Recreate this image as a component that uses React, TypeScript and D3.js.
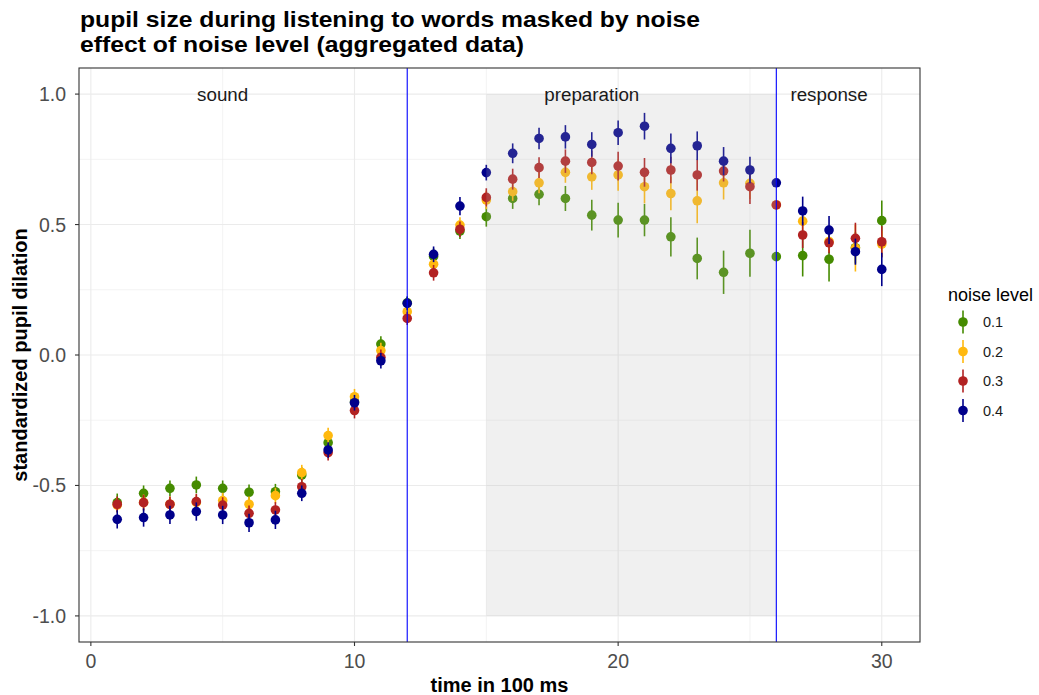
import React from "react";
import * as d3 from "d3";

// time bins (x 100 ms)
const TIME = [1, 2, 3, 4, 5, 6, 7, 8, 9, 10, 11, 12, 13, 14, 15, 16, 17, 18, 19, 20, 21, 22, 23, 24, 25, 26, 27, 28, 29, 30];

const NOISE_LEVELS = ["0.1", "0.2", "0.3", "0.4"];
const NOISE_COLORS = ["#458B00", "#FFB90F", "#B22222", "#00008B"];

// mean standardized pupil dilation per noise level
const MEAN_01 = [-0.566, -0.530, -0.511, -0.498, -0.511, -0.526, -0.524, -0.460, -0.336, -0.180, 0.042, 0.200, 0.378, 0.475, 0.530, 0.600, 0.616, 0.600, 0.536, 0.517, 0.517, 0.453, 0.370, 0.317, 0.390, 0.377, 0.381, 0.367, 0.411, 0.515];
const MEAN_02 = [-0.575, -0.565, -0.572, -0.565, -0.558, -0.572, -0.539, -0.451, -0.309, -0.160, 0.017, 0.166, 0.348, 0.498, 0.594, 0.626, 0.660, 0.700, 0.683, 0.690, 0.645, 0.619, 0.591, 0.660, 0.658, 0.575, 0.513, 0.435, 0.410, 0.425];
const MEAN_03 = [-0.572, -0.566, -0.572, -0.562, -0.575, -0.607, -0.594, -0.505, -0.374, -0.213, -0.009, 0.140, 0.315, 0.482, 0.604, 0.674, 0.718, 0.743, 0.738, 0.724, 0.700, 0.709, 0.690, 0.705, 0.645, 0.575, 0.460, 0.430, 0.447, 0.434];
const MEAN_04 = [-0.630, -0.623, -0.613, -0.600, -0.613, -0.643, -0.632, -0.530, -0.364, -0.183, -0.022, 0.198, 0.386, 0.571, 0.699, 0.773, 0.830, 0.836, 0.807, 0.852, 0.877, 0.792, 0.802, 0.743, 0.709, 0.660, 0.552, 0.479, 0.396, 0.328];

// standard errors per noise level
const SE_01 = [0.035, 0.030, 0.030, 0.032, 0.030, 0.030, 0.030, 0.030, 0.030, 0.030, 0.030, 0.025, 0.030, 0.030, 0.038, 0.040, 0.042, 0.048, 0.059, 0.067, 0.062, 0.075, 0.080, 0.083, 0.090, 0.012, 0.080, 0.085, 0.060, 0.077];
const SE_02 = [0.030, 0.030, 0.030, 0.030, 0.030, 0.030, 0.030, 0.030, 0.030, 0.030, 0.030, 0.025, 0.030, 0.030, 0.035, 0.035, 0.040, 0.040, 0.050, 0.060, 0.064, 0.064, 0.086, 0.064, 0.060, 0.012, 0.040, 0.040, 0.090, 0.050];
const SE_03 = [0.030, 0.030, 0.030, 0.030, 0.030, 0.030, 0.030, 0.030, 0.030, 0.030, 0.030, 0.025, 0.030, 0.030, 0.035, 0.040, 0.040, 0.045, 0.045, 0.055, 0.055, 0.051, 0.060, 0.040, 0.066, 0.012, 0.050, 0.040, 0.060, 0.060];
const SE_04 = [0.035, 0.035, 0.035, 0.035, 0.035, 0.035, 0.035, 0.030, 0.030, 0.030, 0.030, 0.025, 0.030, 0.035, 0.030, 0.038, 0.041, 0.045, 0.047, 0.047, 0.051, 0.057, 0.055, 0.054, 0.051, 0.012, 0.055, 0.054, 0.050, 0.064];

const MEANS = [MEAN_01, MEAN_02, MEAN_03, MEAN_04];
const SES = [SE_01, SE_02, SE_03, SE_04];

// trial phases
const PHASE_LABELS = ["sound", "preparation", "response"];
const PHASE_LABEL_TIME = [5, 19, 28];
const PHASE_BOUNDARIES = [12, 26];
const SHADED_SPAN = [15, 26];
const SHADED_RANGE = [-1, 1];

const X_TICKS = [0, 10, 20, 30];
const X_MINOR = [5, 15, 25];
const Y_TICKS = [-1, -0.5, 0, 0.5, 1];
const Y_MINOR = [-0.75, -0.25, 0.25, 0.75];

const TITLE_LINES = ["pupil size during listening to words masked by noise", "effect of noise level (aggregated data)"];
const TITLE_WIDTHS = [620, 444];
const X_TITLE = "time in 100 ms";
const Y_TITLE = "standardized pupil dilation";
const LEGEND_TITLE = "noise level";

const W = 1039;
const H = 695;
const PANEL = { left: 79, right: 920, top: 68, bottom: 642 };
const FONT = "'Liberation Sans', Arial, Helvetica, sans-serif";

export default function App() {
  const x = d3.scaleLinear().domain([-0.45, 31.45]).range([PANEL.left, PANEL.right]);
  const y = d3.scaleLinear().domain([-1.1, 1.1]).range([PANEL.bottom, PANEL.top]);
  // plain hyphen for negatives, one decimal
  const fmt = (v: number) => d3.format(".1f")(v).replace("\u2212", "-");

  const points = NOISE_LEVELS.map((lvl, s) =>
    TIME.map((t, i) => ({ lvl, s, t, m: MEANS[s][i], se: SES[s][i] }))
  );

  return (
    <svg
      width={W}
      height={H}
      style={{ position: "absolute", left: 0, top: 0, background: "#fff" }}
      fontFamily={FONT}
    >
      <rect x={0} y={0} width={W} height={H} fill="#fff" />

      {/* title */}
      {TITLE_LINES.map((line, i) => (
        <text
          key={i}
          x={PANEL.left + 1}
          y={27 + i * 25}
          fontSize={21.5}
          fontWeight="bold"
          fill="#000"
          textLength={TITLE_WIDTHS[i]}
          lengthAdjust="spacingAndGlyphs"
        >
          {line}
        </text>
      ))}

      {/* grid */}
      <g>
        {X_MINOR.map((v) => (
          <line key={"xm" + v} x1={x(v)} x2={x(v)} y1={PANEL.top} y2={PANEL.bottom} stroke="#EBEBEB" strokeWidth={0.6} />
        ))}
        {Y_MINOR.map((v) => (
          <line key={"ym" + v} x1={PANEL.left} x2={PANEL.right} y1={y(v)} y2={y(v)} stroke="#EBEBEB" strokeWidth={0.6} />
        ))}
        {X_TICKS.map((v) => (
          <line key={"xg" + v} x1={x(v)} x2={x(v)} y1={PANEL.top} y2={PANEL.bottom} stroke="#EBEBEB" strokeWidth={1.1} />
        ))}
        {Y_TICKS.map((v) => (
          <line key={"yg" + v} x1={PANEL.left} x2={PANEL.right} y1={y(v)} y2={y(v)} stroke="#EBEBEB" strokeWidth={1.1} />
        ))}
      </g>

      {/* point ranges */}
      {points.map((series, s) => (
        <g key={s}>
          {series.map((d) => (
            <g key={d.t}>
              <line
                x1={x(d.t)}
                x2={x(d.t)}
                y1={y(d.m - d.se)}
                y2={y(d.m + d.se)}
                stroke={NOISE_COLORS[s]}
                strokeWidth={1.6}
              />
              <circle cx={x(d.t)} cy={y(d.m)} r={4.8} fill={NOISE_COLORS[s]} />
            </g>
          ))}
        </g>
      ))}

      {/* preparation phase shading */}
      <rect
        x={x(SHADED_SPAN[0])}
        y={y(SHADED_RANGE[1])}
        width={x(SHADED_SPAN[1]) - x(SHADED_SPAN[0])}
        height={y(SHADED_RANGE[0]) - y(SHADED_RANGE[1])}
        fill="#B3B3B3"
        fillOpacity={0.2}
      />

      {/* phase boundaries */}
      {PHASE_BOUNDARIES.map((v) => (
        <line key={v} x1={x(v)} x2={x(v)} y1={PANEL.top} y2={PANEL.bottom} stroke="#0000FF" strokeWidth={1.1} />
      ))}

      {/* phase labels */}
      {PHASE_LABELS.map((lbl, i) => (
        <text
          key={lbl}
          x={x(PHASE_LABEL_TIME[i])}
          y={y(1)}
          dy="0.35em"
          textAnchor="middle"
          fontSize={18.8}
          fill="#1a1a1a"
        >
          {lbl}
        </text>
      ))}

      {/* panel border */}
      <rect
        x={PANEL.left}
        y={PANEL.top}
        width={PANEL.right - PANEL.left}
        height={PANEL.bottom - PANEL.top}
        fill="none"
        stroke="#333333"
        strokeWidth={1.1}
      />

      {/* x axis */}
      {X_TICKS.map((v) => (
        <g key={"xt" + v}>
          <line x1={x(v)} x2={x(v)} y1={PANEL.bottom} y2={PANEL.bottom + 4} stroke="#333333" strokeWidth={1.1} />
          <text x={x(v)} y={PANEL.bottom + 26} textAnchor="middle" fontSize={19.5} fill="#4D4D4D">
            {v}
          </text>
        </g>
      ))}
      <text x={(PANEL.left + PANEL.right) / 2} y={692} textAnchor="middle" fontSize={20} fontWeight="bold" fill="#000">
        {X_TITLE}
      </text>

      {/* y axis */}
      {Y_TICKS.map((v) => (
        <g key={"yt" + v}>
          <line x1={PANEL.left - 4} x2={PANEL.left} y1={y(v)} y2={y(v)} stroke="#333333" strokeWidth={1.1} />
          <text x={PANEL.left - 13} y={y(v)} dy="0.36em" textAnchor="end" fontSize={19.5} fill="#4D4D4D">
            {fmt(v)}
          </text>
        </g>
      ))}
      <text
        transform={`translate(27,${(PANEL.top + PANEL.bottom) / 2}) rotate(-90)`}
        textAnchor="middle"
        fontSize={20}
        fontWeight="bold"
        fill="#000"
      >
        {Y_TITLE}
      </text>

      {/* legend */}
      <g>
        <text x={948} y={301} fontSize={18} fill="#000">
          {LEGEND_TITLE}
        </text>
        {NOISE_LEVELS.map((lvl, i) => {
          const cy = 322 + i * 29.5;
          return (
            <g key={lvl}>
              <line x1={963} x2={963} y1={cy - 11.5} y2={cy + 11.5} stroke={NOISE_COLORS[i]} strokeWidth={1.6} />
              <circle cx={963} cy={cy} r={4.8} fill={NOISE_COLORS[i]} />
              <text x={983} y={cy} dy="0.36em" fontSize={14.5} fill="#1a1a1a">
                {lvl}
              </text>
            </g>
          );
        })}
      </g>
    </svg>
  );
}
